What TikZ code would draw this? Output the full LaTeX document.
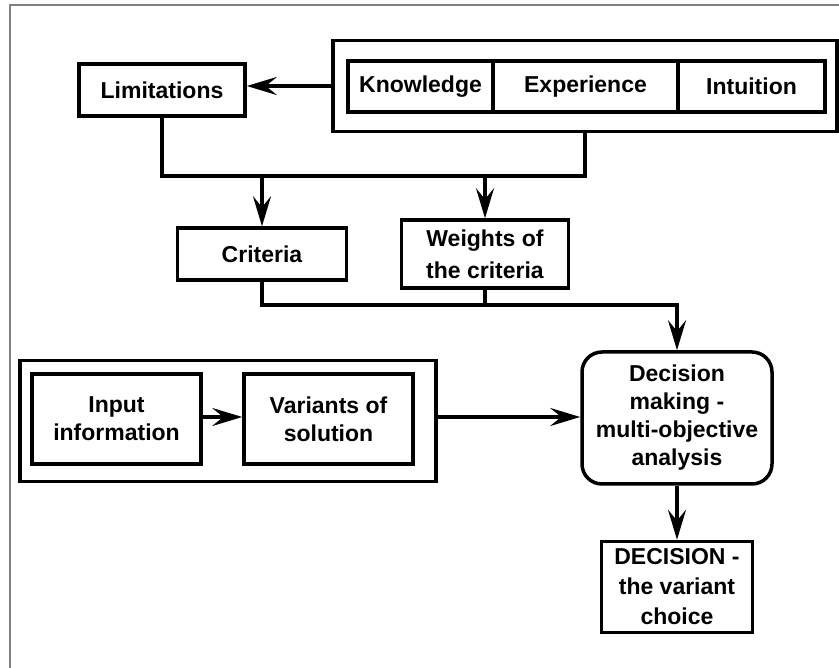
\documentclass[tikz,border=0pt]{standalone}
\usepackage{fontspec}
\setmainfont{Liberation Sans}
\usetikzlibrary{arrows.meta}

\begin{document}
\begin{tikzpicture}[x=1pt, y=-1pt, line width=3.5pt]
\tikzstyle{every node}=[draw, shape=rectangle, inner sep=0pt, align=center, font=\fontsize{23}{28}\selectfont\bfseries]
\tikzstyle{arr}=[-{Stealth[length=30pt, width=18pt, inset=11pt]}]
\useasboundingbox (0,0) rectangle (839,668);
\draw[line width=2pt, gray] (10,668) -- (10,5) -- (839,5);
% top group
\node (grpA) at (585, 86) [minimum width=504pt, minimum height=91pt] {};
\node (know) at (420.5, 86.5) [minimum width=145pt, minimum height=51pt] {Knowledge};
\node (expr) at (585.5, 86.5) [minimum width=185pt, minimum height=51pt] {Experience};
\node (intu) at (751.5, 86.5) [minimum width=147pt, minimum height=51pt] {Intuition};
\node (lim) at (162, 90) [minimum width=166pt, minimum height=52pt] {Limitations};
\node (crit) at (262, 254) [minimum width=169pt, minimum height=52pt] {Criteria};
\node (wts) at (485, 254) [minimum width=167pt, minimum height=68pt, font=\fontsize{23}{32}\selectfont\bfseries] {Weights of\\the criteria};
% bottom part
\node (grpB) at (228, 421) [minimum width=416pt, minimum height=121pt] {};
\node (inp) at (116.5, 419) [minimum width=169pt, minimum height=90pt] {Input\\information};
\node (var) at (328.5, 419) [minimum width=169pt, minimum height=90pt] {Variants of\\solution};
\node (dec) at (677, 418) [minimum width=190pt, minimum height=132pt, rounded corners=20pt] {Decision\\making -\\multi-objective\\analysis};
\node (fin) at (677, 587) [minimum width=151pt, minimum height=91pt, font=\fontsize{23}{30}\selectfont\bfseries] {DECISION -\\the variant\\choice};
\coordinate (top) at (0, 176);
\coordinate (mid) at (0, 305);
\draw[arr] (grpA.west) -- (grpA.west -| lim.east);
\draw (lim.south) |- (top -| grpA.south) -- (grpA.south);
\draw[arr] (top -| crit.north) -- (crit.north);
\draw[arr] (top -| wts.north) -- (wts.north);
\draw[arr] (crit.south) |- (mid -| dec.north) -- (dec.north);
\draw (wts.south) -- (mid -| wts.south);
\draw[arr] (inp.east |- 0,417) -- (var.west |- 0,417);
\draw[arr] (grpB.east |- 0,417) -- (dec.west |- 0,417);
\draw[arr] (dec.south) -- (fin.north);
\end{tikzpicture}
\end{document}
